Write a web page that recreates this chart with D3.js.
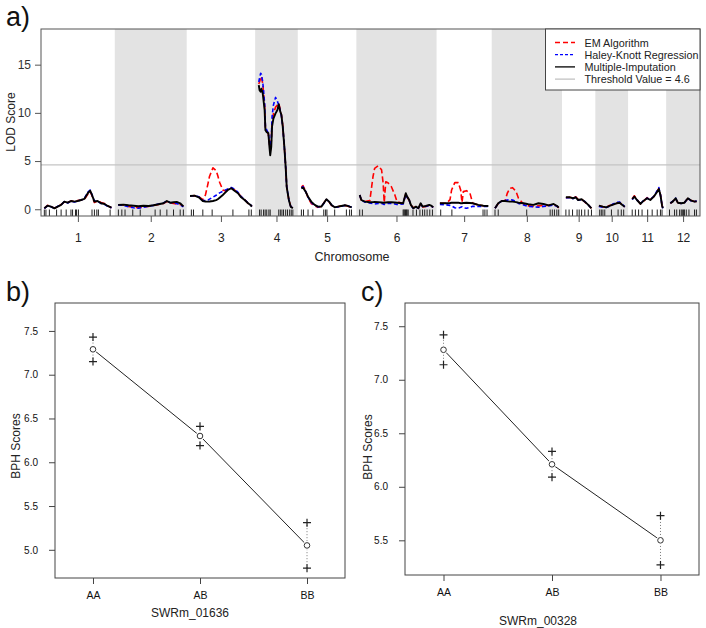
<!DOCTYPE html>
<html><head><meta charset="utf-8">
<script src="https://cdn.jsdelivr.net/npm/d3@7"></script>
<style>
body{margin:0;background:#fff;}
text{font-family:"Liberation Sans", Arial, Helvetica, sans-serif;}
</style></head><body>
<svg id="chart" width="706" height="628"></svg>
<script>
// ---------------- DATA ----------------
const chromosomes = ["1","2","3","4","5","6","7","8","9","10","11","12"];
const chromLengths = [252,245,232,135,195,276,182,239,100,98,118,102]; // cM
const chromGap = 25;
const lodTicks = [0,5,10,15];
const thresholdValue = 4.6;

const markerPos = [
  [0,6,19,46,63,82,100,106,117,121,128,179,188,197,203,247],
  [1,14,26,55,83,139,158,183,208,233,245],
  [5,13,48,83,161,221,230],
  [4,10,19,25,31,39,44,76,82,88,94,102,109,117,123,129],
  [1,9,26,44,85,92,97,126,170,182,189],
  [0,10,163,166,169,172,176,178,182,200,213,226,236,244,253,263,273],
  [3,45,162,169,177],
  [0,12,119,207,215,223,232,239],
  [2,14,27,44,52,61,73,86,98],
  [4,10,16,23,48,73,85,94],
  [3,15,27,40,61,78,97,109,115],
  [0,19,27,38,44,48,53,56,63,73,94,101]
];

const lodPos = [
  [0,12,25,38,50,63,75,88,100,113,125,138,150,163,172,179,188,200,213,226,238,252],
  [0,20,39,58,76,95,114,133,152,170,183,195,208,220,233,245],
  [0,17,33,48,58,67,73,86,98,104,111,123,133,142,155,167,180,192,205,218,227,232],
  [1,4,8,11,16,23,26,31,37,41,44,48,51,56,64,71,76,82,86,91,97,102,106,114,121,129],
  [1,7,17,26,38,51,63,76,85,95,105,114,126,138,151,164,172,182,190],
  [0,6,19,38,50,56,69,82,88,92,98,106,119,132,140,163,173,178,186,192,201,211,220,229,236,248,261,270,276],
  [0,25,38,44,56,69,78,83,88,100,113,123,144,163,182],
  [0,12,25,38,46,56,66,79,88,107,125,144,163,182,201,220,233,239],
  [2,17,29,39,48,61,73,86,98],
  [1,16,29,41,54,67,79,89,98],
  [3,11,21,34,46,59,71,84,93,103,109,115,118],
  [3,12,23,31,44,56,69,82,94,102]
];

const lodMI = [
  [0.10,0.37,0.27,0.10,0.27,0.45,0.79,0.68,0.86,0.79,0.86,0.96,1.07,1.66,1.93,1.48,0.79,0.86,0.62,0.55,0.34,0.17],
  [0.45,0.48,0.41,0.37,0.31,0.37,0.34,0.41,0.52,0.62,0.86,0.68,0.73,0.76,0.62,0.30],
  [1.38,1.41,1.24,0.86,0.80,0.79,0.80,0.86,0.95,1.04,1.20,1.48,1.75,2.00,2.18,1.93,1.66,1.24,0.96,0.62,0.45,0.27],
  [12.88,12.36,12.20,12.50,12.00,10.30,8.20,8.00,7.90,6.50,5.60,6.50,8.60,9.40,9.95,10.30,10.90,10.10,9.80,8.60,6.50,4.40,2.30,0.96,0.27,0.10],
  [2.17,2.25,1.83,1.30,0.79,0.45,0.27,0.27,0.62,1.04,0.79,0.45,0.20,0.27,0.34,0.41,0.37,0.27,0.20],
  [1.48,0.96,0.79,0.72,0.74,0.76,0.74,0.70,0.68,0.68,0.70,0.72,0.72,0.70,0.68,0.62,1.66,1.31,0.96,0.45,0.10,0.27,0.10,0.62,0.27,0.34,0.45,0.34,0.20],
  [0.62,0.62,0.65,0.68,0.68,0.68,0.62,0.62,0.65,0.68,0.65,0.62,0.45,0.37,0.34],
  [0.10,0.62,0.86,0.86,0.82,0.79,0.79,0.74,0.68,0.62,0.52,0.45,0.62,0.55,0.41,0.55,0.34,0.17],
  [1.24,1.24,1.14,1.24,0.96,1.04,0.79,0.45,0.10],
  [0.37,0.27,0.20,0.34,0.48,0.62,0.68,0.45,0.27],
  [1.04,1.31,0.96,0.55,0.89,1.14,0.96,1.31,1.66,2.10,1.48,0.40,0.10],
  [0.62,0.79,1.14,0.68,0.62,0.68,1.14,0.89,0.79,0.83]
];

const lodEM = [
  [0.10,0.40,0.30,0.12,0.25,0.50,0.75,0.70,0.85,0.80,0.90,0.95,1.00,1.55,1.85,1.40,0.70,0.90,0.70,0.60,0.35,0.15],
  [0.45,0.45,0.30,0.20,0.15,0.25,0.30,0.40,0.50,0.60,0.80,0.65,0.60,0.55,0.50,0.30],
  [1.38,1.41,1.30,1.00,1.50,2.60,3.40,4.30,4.00,3.50,2.80,2.00,1.90,2.05,2.20,2.00,1.70,1.30,1.00,0.60,0.50,0.30],
  [13.00,13.20,13.60,13.80,13.00,10.80,8.40,8.10,7.80,6.80,6.00,7.00,9.00,9.90,10.60,10.80,11.00,10.30,9.80,8.70,6.50,4.40,2.30,1.00,0.30,0.10],
  [2.30,2.45,1.90,1.20,0.60,0.35,0.20,0.30,0.65,1.00,0.75,0.40,0.20,0.25,0.35,0.40,0.35,0.25,0.20],
  [1.48,0.96,0.80,0.90,3.40,4.25,4.50,4.10,2.70,0.70,2.86,2.76,2.34,1.48,0.79,0.60,1.60,1.30,0.90,0.45,0.15,0.25,0.10,0.55,0.25,0.30,0.40,0.30,0.20],
  [0.62,0.62,1.00,2.00,2.76,2.76,2.00,0.70,1.83,1.93,1.66,0.62,0.45,0.37,0.30],
  [0.10,0.60,0.85,0.90,1.66,2.17,2.24,1.83,1.14,0.55,0.35,0.30,0.35,0.40,0.40,0.50,0.30,0.15],
  [1.20,1.25,1.15,1.30,1.00,1.05,0.75,0.45,0.10],
  [0.35,0.25,0.25,0.40,0.50,0.60,0.70,0.45,0.25],
  [1.10,1.40,1.00,0.55,0.85,1.20,1.00,1.30,1.70,2.15,1.50,0.40,0.10],
  [0.60,0.80,1.10,0.70,0.60,0.70,1.10,0.90,0.80,0.80]
];

const lodHK = [
  [0.10,0.35,0.25,0.10,0.30,0.45,0.80,0.65,0.85,0.75,0.85,0.95,1.10,1.75,2.00,1.50,0.85,0.85,0.60,0.50,0.30,0.15],
  [0.45,0.40,0.25,0.15,0.10,0.20,0.30,0.40,0.55,0.65,0.85,0.70,0.65,0.60,0.45,0.25],
  [1.38,1.41,1.30,0.90,0.90,0.95,1.05,1.25,1.45,1.55,1.70,1.85,2.00,2.10,2.25,2.10,1.75,1.30,1.00,0.65,0.45,0.30],
  [13.20,13.60,14.10,14.00,13.20,11.00,8.60,8.20,7.90,7.00,6.20,7.30,9.60,10.80,11.60,11.20,10.80,10.20,9.70,8.60,6.50,4.40,2.30,1.00,0.30,0.10],
  [2.20,2.35,1.85,1.25,0.70,0.40,0.25,0.30,0.60,1.00,0.80,0.45,0.20,0.25,0.30,0.40,0.35,0.30,0.20],
  [1.48,0.96,0.75,0.65,0.60,0.55,0.60,0.60,0.55,0.50,0.55,0.60,0.60,0.55,0.50,0.55,1.55,1.25,0.90,0.40,0.10,0.25,0.10,0.55,0.25,0.30,0.40,0.30,0.20],
  [0.50,0.45,0.40,0.35,0.15,0.10,0.20,0.25,0.15,0.10,0.20,0.30,0.30,0.30,0.30],
  [0.10,0.60,0.85,0.90,0.95,1.00,0.95,0.80,0.60,0.45,0.30,0.25,0.20,0.30,0.35,0.45,0.30,0.15],
  [1.20,1.20,1.10,1.25,0.95,1.00,0.80,0.45,0.10],
  [0.30,0.20,0.20,0.30,0.55,0.70,0.75,0.50,0.25],
  [1.00,1.30,0.95,0.60,0.90,1.15,1.00,1.35,1.75,2.25,1.50,0.40,0.10],
  [0.65,0.80,1.15,0.65,0.60,0.65,1.15,0.85,0.80,0.85]
];

const legendLabels = ["EM Algorithm","Haley-Knott Regression","Multiple-Imputation","Threshold Value = 4.6"];

const genotypes = ["AA","AB","BB"];
const markerB = "SWRm_01636";
const meansB = [7.29,6.30,5.05];
const upperB = [7.43,6.41,5.31];
const lowerB = [7.15,6.19,4.79];
const ticksB = [5.0,5.5,6.0,6.5,7.0,7.5];

const markerC = "SWRm_00328";
const meansC = [7.28,6.21,5.50];
const upperC = [7.42,6.33,5.73];
const lowerC = [7.14,6.09,5.27];
const ticksC = [5.5,6.0,6.5,7.0,7.5];

// ---------------- DRAW ----------------
const svg = d3.select("#chart");
svg.append("rect").attr("width",706).attr("height",628).attr("fill","#fff");

const FONT = '"Liberation Sans", Arial, Helvetica, sans-serif';

// ===== Panel a =====
const A = {left:41, right:700, top:29, bottom:216};
const offsets = [];
{ let acc = 0; chromLengths.forEach(L => { offsets.push(acc); acc += L + chromGap; }); }
const totalEnd = offsets[offsets.length-1] + chromLengths[chromLengths.length-1];
const xa = d3.scaleLinear().domain([-chromGap/2, totalEnd + chromGap/2]).range([A.left, A.right]);
const ya = d3.scaleLinear().domain([-0.7, 18.7]).range([A.bottom, A.top]);

const ga = svg.append("g");
const chromIdx = d3.range(chromosomes.length);

ga.selectAll("rect.band").data(chromIdx.filter(i => i % 2 === 1)).join("rect")
  .attr("class","band")
  .attr("x", i => xa(offsets[i] - chromGap/2))
  .attr("width", i => xa(offsets[i] + chromLengths[i] + chromGap/2) - xa(offsets[i] - chromGap/2))
  .attr("y", A.top).attr("height", A.bottom - A.top)
  .attr("fill", "#e3e3e3");

ga.append("line")
  .attr("x1", A.left).attr("x2", A.right)
  .attr("y1", ya(thresholdValue)).attr("y2", ya(thresholdValue))
  .attr("stroke", "#c4c4c4").attr("stroke-width", 1.2);

// rug
const rugData = [];
markerPos.forEach((arr, i) => arr.forEach(p => rugData.push(offsets[i] + p)));
ga.selectAll("line.rug").data(rugData).join("line")
  .attr("class","rug")
  .attr("x1", d => xa(d)).attr("x2", d => xa(d))
  .attr("y1", A.bottom).attr("y2", A.bottom - 6.5)
  .attr("stroke", "#222").attr("stroke-width", 1);

// curves
const series = [
  {vals: lodEM, color: "#ff0000", dash: "6,3", w: 1.6},
  {vals: lodHK, color: "#0000ff", dash: "4,2.5", w: 1.6},
  {vals: lodMI, color: "#000000", dash: null, w: 1.9}
];
series.forEach(s => {
  chromIdx.forEach(i => {
    const pts = lodPos[i].map((p, j) => [offsets[i] + p, s.vals[i][j]]);
    const line = d3.line().x(d => xa(d[0])).y(d => ya(d[1]));
    ga.append("path").datum(pts)
      .attr("d", line)
      .attr("fill", "none")
      .attr("stroke", s.color)
      .attr("stroke-width", s.w)
      .attr("stroke-linejoin", "round")
      .attr("stroke-dasharray", s.dash);
  });
});

// box
ga.append("rect").attr("x", A.left).attr("y", A.top)
  .attr("width", A.right - A.left).attr("height", A.bottom - A.top)
  .attr("fill", "none").attr("stroke", "#555").attr("stroke-width", 1);

// axes
const yAxisA = d3.axisLeft(ya).tickValues(lodTicks).tickSize(6).tickPadding(4);
const gya = ga.append("g").attr("transform", `translate(${A.left},0)`).call(yAxisA);
gya.select(".domain").remove();
gya.selectAll("text").attr("font-size", 12).attr("fill", "#333").attr("font-family", FONT);
gya.selectAll("line").attr("stroke", "#555");

const centers = chromIdx.map(i => offsets[i] + chromLengths[i]/2);
const xAxisA = d3.axisBottom(xa).tickValues(centers).tickFormat((d, i) => chromosomes[i]).tickSize(6).tickPadding(11);
const gxa = ga.append("g").attr("transform", `translate(0,${A.bottom})`).call(xAxisA);
gxa.select(".domain").remove();
gxa.selectAll("text").attr("font-size", 12).attr("fill", "#222").attr("font-family", FONT);
gxa.selectAll("line").attr("stroke", "#555");

ga.append("text").attr("x", 352).attr("y", 261).attr("text-anchor","middle")
  .attr("font-size", 12.5).attr("fill","#222").text("Chromosome");
ga.append("text").attr("transform", "translate(15,122) rotate(-90)").attr("text-anchor","middle")
  .attr("font-size", 12).attr("fill","#222").text("LOD Score");
ga.append("text").attr("x", 6).attr("y", 26).attr("font-size", 27).attr("fill","#111").text("a)");

// legend
const L = {x: 545.5, y: 29, w: 154.5, h: 61};
const gl = ga.append("g");
gl.append("rect").attr("x", L.x).attr("y", L.y).attr("width", L.w).attr("height", L.h)
  .attr("fill", "#fff").attr("stroke", "#444").attr("stroke-width", 1);
const legStyles = [
  {color:"#ff0000", dash:"5,3", w:1.3},
  {color:"#0000ff", dash:"3,2", w:1.3},
  {color:"#000000", dash:null, w:1.3},
  {color:"#b0b0b0", dash:null, w:1}
];
legendLabels.forEach((t, i) => {
  const yy = 42.5 + i * 12.2;
  gl.append("line").attr("x1", 555).attr("x2", 575).attr("y1", yy).attr("y2", yy)
    .attr("stroke", legStyles[i].color).attr("stroke-width", legStyles[i].w)
    .attr("stroke-dasharray", legStyles[i].dash);
  gl.append("text").attr("x", 584.5).attr("y", yy + 4).attr("font-size", 10.8)
    .attr("fill", "#222").text(t);
});

// ===== Effect plots =====
function effectPanel(opt) {
  const g = svg.append("g");
  const x = d3.scalePoint().domain(genotypes).range([opt.left, opt.right]).padding(0.355);
  const y = d3.scaleLinear().domain(opt.ydom).range([opt.bottom, opt.top]);

  g.selectAll("line.ci").data(genotypes).join("line")
    .attr("class","ci")
    .attr("x1", d => x(d)).attr("x2", d => x(d))
    .attr("y1", (d, i) => y(opt.lower[i])).attr("y2", (d, i) => y(opt.upper[i]))
    .attr("stroke", "#777").attr("stroke-width", 1).attr("stroke-dasharray", "1,2");

  const line = d3.line().x(d => x(d[0])).y(d => y(d[1]));
  g.append("path").datum(genotypes.map((gname, i) => [gname, opt.means[i]]))
    .attr("d", line).attr("fill", "none").attr("stroke", "#222").attr("stroke-width", 1);

  g.selectAll("circle.mean").data(genotypes).join("circle")
    .attr("class","mean")
    .attr("cx", d => x(d)).attr("cy", (d, i) => y(opt.means[i]))
    .attr("r", 4.2).attr("fill", "#fff").attr("stroke", "none");
  g.selectAll("circle.meanc").data(genotypes).join("circle")
    .attr("class","meanc")
    .attr("cx", d => x(d)).attr("cy", (d, i) => y(opt.means[i]))
    .attr("r", 2.8).attr("fill", "none").attr("stroke", "#333").attr("stroke-width", 1);

  const plusData = [];
  genotypes.forEach((gname, i) => { plusData.push([gname, opt.upper[i]]); plusData.push([gname, opt.lower[i]]); });
  const s = 4;
  g.selectAll("path.plus").data(plusData).join("path")
    .attr("class","plus")
    .attr("d", d => { const cx = x(d[0]), cy = y(d[1]); return `M${cx-s},${cy}H${cx+s}M${cx},${cy-s}V${cy+s}`; })
    .attr("stroke", "#222").attr("stroke-width", 1.2).attr("fill", "none");

  g.append("rect").attr("x", opt.left).attr("y", opt.top)
    .attr("width", opt.right - opt.left).attr("height", opt.bottom - opt.top)
    .attr("fill", "none").attr("stroke", "#444").attr("stroke-width", 1);

  const gy = g.append("g").attr("transform", `translate(${opt.left},0)`)
    .call(d3.axisLeft(y).tickValues(opt.ticks).tickFormat(d3.format(".1f")).tickSize(6).tickPadding(11));
  gy.select(".domain").remove();
  gy.selectAll("text").attr("font-size", 10).attr("fill", "#111").attr("font-family", FONT);
  gy.selectAll("line").attr("stroke", "#444");

  const gx = g.append("g").attr("transform", `translate(0,${opt.bottom})`)
    .call(d3.axisBottom(x).tickSize(6).tickPadding(8));
  gx.select(".domain").remove();
  gx.selectAll("text").attr("font-size", 10.5).attr("fill", "#111").attr("font-family", FONT);
  gx.selectAll("line").attr("stroke", "#444");

  g.append("text").attr("x", opt.xlabX).attr("y", opt.xlabY).attr("text-anchor", "middle")
    .attr("font-size", 12).attr("fill", "#222").text(opt.marker);
  g.append("text").attr("transform", `translate(${opt.ylabX},${opt.ylabY}) rotate(-90)`)
    .attr("text-anchor", "middle").attr("font-size", 12).attr("fill", "#222").text("BPH Scores");
  g.append("text").attr("x", opt.tagX).attr("y", opt.tagY).attr("font-size", 27).attr("fill", "#111").text(opt.tag);
}

effectPanel({left:55, right:345, top:303, bottom:578, ydom:[4.678, 7.819],
  means: meansB, upper: upperB, lower: lowerB, ticks: ticksB, marker: markerB,
  xlabX: 190, xlabY: 617, ylabX: 20, ylabY: 446, tag: "b)", tagX: 6, tagY: 301});

effectPanel({left:405, right:699, top:303, bottom:575, ydom:[5.176, 7.717],
  means: meansC, upper: upperC, lower: lowerC, ticks: ticksC, marker: markerC,
  xlabX: 538, xlabY: 625, ylabX: 372, ylabY: 447, tag: "c)", tagX: 361, tagY: 301});
</script>
</body></html>
